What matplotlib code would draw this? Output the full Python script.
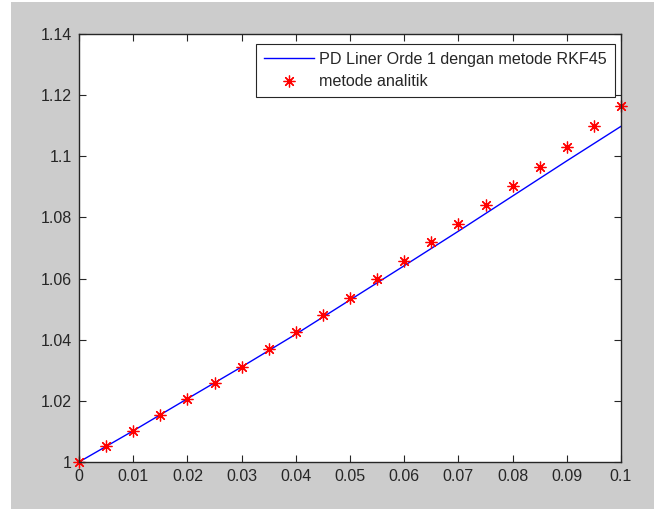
import matplotlib
matplotlib.use("Agg")
import matplotlib.pyplot as plt
from matplotlib.patches import Rectangle

# RKF45 solution (blue line)
x_rkf = [0, 0.01, 0.02, 0.03, 0.04, 0.05, 0.06, 0.07, 0.08, 0.09, 0.1]
y_rkf = [1.0, 1.0102, 1.0207, 1.0311, 1.0418, 1.0530, 1.0642, 1.0755, 1.0870, 1.0985, 1.1098]

# analytic solution (red stars)
x_ana = [0, 0.005, 0.01, 0.015, 0.02, 0.025, 0.03, 0.035, 0.04, 0.045, 0.05,
         0.055, 0.06, 0.065, 0.07, 0.075, 0.08, 0.085, 0.09, 0.095, 0.1]
y_ana = [1.0, 1.0051, 1.0101, 1.0153, 1.0205, 1.0259, 1.0312, 1.0368, 1.0424, 1.0481, 1.0538,
         1.0599, 1.0658, 1.0718, 1.0780, 1.0842, 1.0902, 1.0966, 1.1032, 1.1098, 1.1164]

xticks = [0, 0.01, 0.02, 0.03, 0.04, 0.05, 0.06, 0.07, 0.08, 0.09, 0.1]
xticklabels = ["0", "0.01", "0.02", "0.03", "0.04", "0.05", "0.06", "0.07", "0.08", "0.09", "0.1"]
yticks = [1.0, 1.02, 1.04, 1.06, 1.08, 1.1, 1.12, 1.14]
yticklabels = ["1", "1.02", "1.04", "1.06", "1.08", "1.1", "1.12", "1.14"]

plt.rcParams['font.family'] = ['Liberation Sans', 'DejaVu Sans']

fig = plt.figure(figsize=(6.54, 5.09), dpi=100, facecolor="white")
# grey MATLAB figure background
fig.patches.append(Rectangle((11 / 654, 0), 1, 507 / 509, transform=fig.transFigure,
                             facecolor="#cccccc", edgecolor="none", zorder=-10))

ax = fig.add_axes([79 / 654, 47 / 509, 542 / 654, 428 / 509])
ax.set_zorder(1)
ax.plot(x_rkf, y_rkf, color="blue", lw=1, label="PD Liner Orde 1 dengan metode RKF45")
ax.plot(x_ana, y_ana, linestyle="none", marker=(8, 2, 0), markersize=8.5, mew=0.9,
        color="red", label="metode analitik", clip_on=False)

ax.set_xlim(0, 0.1)
ax.set_ylim(1.0, 1.14)
ax.set_xticks(xticks)
ax.set_xticklabels(xticklabels)
ax.set_yticks(yticks)
ax.set_yticklabels(yticklabels)
ax.tick_params(direction="in", length=5, width=0.8, top=True, right=True, labelsize=11.5,
               pad=5, colors="#262626")
for s in ax.spines.values():
    s.set_linewidth(1)
    s.set_color("#262626")

leg = ax.legend(loc="upper right", bbox_to_anchor=(1 - 6 / 542, 1 - 10 / 428), borderaxespad=0,
                fancybox=False, framealpha=1, edgecolor="#262626",
                fontsize=11.6, handlelength=3.1, handletextpad=0.35, borderpad=0.5,
                labelspacing=0.45)
leg.get_frame().set_linewidth(0.8)
for t in leg.get_texts():
    t.set_color("#262626")

fig.savefig("out.png", dpi=100, facecolor=fig.get_facecolor())
